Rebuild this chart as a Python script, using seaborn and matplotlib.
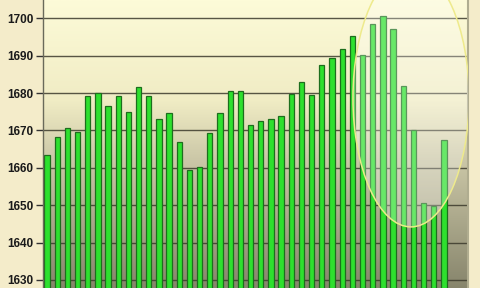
import numpy as np
import pandas as pd
import matplotlib
matplotlib.use("Agg")
import matplotlib.pyplot as plt
from matplotlib.patches import Ellipse
from matplotlib.colors import LinearSegmentedColormap
import seaborn as sns

# ---- data ----
categories = [str(i) for i in range(1, 41)]
values = [1663.4, 1668.3, 1670.6, 1669.5, 1679.2, 1680.0, 1676.5, 1679.3, 1674.9, 1681.7,
          1679.3, 1673.0, 1674.8, 1667.0, 1659.4, 1660.2, 1669.3, 1674.8, 1680.5, 1680.6,
          1671.5, 1672.6, 1673.1, 1674.0, 1679.7, 1682.9, 1679.5, 1687.4, 1689.3, 1691.8,
          1695.2, 1690.3, 1698.5, 1700.6, 1697.1, 1682.0, 1670.0, 1650.7, 1649.7, 1667.4]
yticks = [1630, 1640, 1650, 1660, 1670, 1680, 1690, 1700]

sns.set_theme(style="white")
plt.rcParams['font.family'] = ['Liberation Sans', 'DejaVu Sans']

fig = plt.figure(figsize=(4.8, 2.88), dpi=100)
fig.patch.set_facecolor('#f4ecca')
ax = fig.add_axes([43/480, 0.0, (468-43)/480, 1.0])

df = pd.DataFrame({"cat": categories, "val": values})

# background gradient (row 0 = top)
cmap = LinearSegmentedColormap.from_list("bg", [
    (0.0, (253/255, 251/255, 216/255)),
    (0.35, (240/255, 236/255, 196/255)),
    (0.55, (204/255, 200/255, 168/255)),
    (1.0, (135/255, 133/255, 108/255)),
])
grad = np.linspace(0, 1, 256).reshape(-1, 1)
ax.imshow(grad, cmap=cmap, aspect='auto', extent=[0, 1, 0, 1], origin='upper',
          transform=ax.transAxes, zorder=0)

for t in yticks:
    ax.axhline(t, color='#3c3a2c', lw=1.0, alpha=0.85, zorder=1)

sns.barplot(data=df, x="cat", y="val", color='#2ee02e', width=0.52,
            edgecolor='#1d6e1d', linewidth=0.9, saturation=1, ax=ax, zorder=2)
for p in ax.patches:
    p.set_facecolor('#2ee02e')
    p.set_zorder(2)

ax.set_xlim(-0.39, 41.36)
ax.set_ylim(1627.86, 1704.9)

# highlight ellipse
ell = Ellipse((35.76, 1678.7), width=11.4, height=69, facecolor=(1, 1, 1, 0.28),
              edgecolor='#eeea8c', lw=1.1, zorder=3)
ax.add_patch(ell)

ax.set_yticks(yticks)
ax.set_yticklabels([str(t) for t in yticks], fontsize=8.5, fontweight='bold', color='#1a1a1a')
ax.tick_params(axis='y', which='both', left=True, length=5, width=1, color='#333333', pad=2)
ax.set_xticks([])
ax.set_xlabel("")
ax.set_ylabel("")
for s in ['top', 'bottom']:
    ax.spines[s].set_visible(False)
ax.spines['left'].set_color('#6a6a5a')
ax.spines['right'].set_color('#b0ad90')
ax.spines['left'].set_linewidth(1.0)
ax.spines['right'].set_linewidth(1.5)

fig.savefig("out.png", dpi=100)
